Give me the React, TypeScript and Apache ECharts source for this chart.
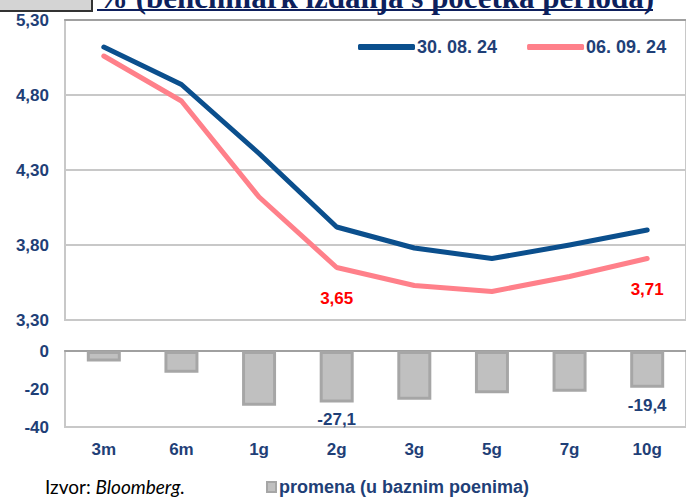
import React, { useEffect, useRef } from "react";
import * as echarts from "echarts";

const categories = ["3m", "6m", "1g", "2g", "3g", "5g", "7g", "10g"];
const series1Name = "30. 08. 24";
const series2Name = "06. 09. 24";
const barName = "promena (u baznim poenima)";
const values1 = [5.12, 4.87, 4.41, 3.92, 3.78, 3.71, 3.8, 3.9];
const values2 = [5.06, 4.76, 4.12, 3.65, 3.53, 3.49, 3.59, 3.71];
const changes = [-5.5, -11.5, -28.8, -27.1, -25.6, -22.2, -21.5, -19.4];
const lineLabelIdx = [3, 7];
const barLabelIdx = [3, 7];
const topTicks = [3.3, 3.8, 4.3, 4.8, 5.3];
const bottomTicks = [-40, -20, 0];
const titleText = "% (benchmark izdanja s početka perioda)";
const sourceLabel = "Izvor: ";
const sourceName = "Bloomberg.";

const NAVY = "#1f3f77";
const BLUE = "#0b4f8d";
const PINK = "#ff808a";
const FONT = "'Liberation Sans', Arial, sans-serif";

export default function App() {
  const ref = useRef<HTMLDivElement>(null);
  useEffect(() => {
    if (!ref.current) return;
    const chart = echarts.init(ref.current, null, { renderer: "svg" });
    const axisLabelStyle = {
      color: NAVY,
      fontWeight: "bold" as const,
      fontSize: 17,
      fontFamily: FONT,
    };
    const gridW = 627;
    const option: any = {
      animation: false,
      backgroundColor: "#ffffff",
      grid: [
        { left: 65, top: 20, width: gridW, height: 300, show: true, borderColor: "#c8c8c8", borderWidth: 2 },
        { left: 65, top: 351, width: gridW, height: 76, show: true, borderColor: "#c8c8c8", borderWidth: 2 },
      ],
      legend: [
        {
          data: [series1Name, series2Name],
          left: 353,
          top: 33,
          icon: "roundRect",
          itemWidth: 57,
          itemHeight: 6,
          itemGap: 30,
          textStyle: { ...axisLabelStyle, fontSize: 18, padding: [0, 0, 0, -3] },
        },
        {
          data: [barName],
          left: 261,
          top: 473,
          icon: "rect",
          itemWidth: 9,
          itemHeight: 10,
          itemGap: 0,
          textStyle: { ...axisLabelStyle, fontSize: 18, padding: [0, 0, 0, -2] },
        },
      ],
      xAxis: [
        { type: "category", gridIndex: 0, data: categories, position: "bottom", axisLine: { show: false }, axisTick: { show: false }, axisLabel: { show: false } },
        { type: "category", gridIndex: 0, data: categories, position: "top", axisLine: { show: true, lineStyle: { color: "#a0a0a0", width: 2 } }, axisTick: { show: false }, axisLabel: { show: false } },
        { type: "category", gridIndex: 1, data: categories, position: "bottom", axisLine: { show: false }, axisTick: { show: false }, axisLabel: { ...axisLabelStyle, margin: 14 } },
        { type: "category", gridIndex: 1, data: categories, position: "top", axisLine: { show: true, lineStyle: { color: "#a0a0a0", width: 2 } }, axisTick: { show: false }, axisLabel: { show: false } },
      ],
      yAxis: [
        {
          type: "value",
          gridIndex: 0,
          min: topTicks[0],
          max: topTicks[topTicks.length - 1],
          interval: topTicks[1] - topTicks[0],
          axisLine: { show: false },
          axisTick: { show: false },
          splitLine: { show: true, lineStyle: { color: "#c8c8c8", width: 2 } },
          axisLabel: { ...axisLabelStyle, margin: 16, formatter: (v: number) => v.toFixed(2).replace(".", ",") },
        },
        {
          type: "value",
          gridIndex: 1,
          min: bottomTicks[0],
          max: bottomTicks[bottomTicks.length - 1],
          interval: bottomTicks[1] - bottomTicks[0],
          axisLine: { show: false },
          axisTick: { show: false },
          splitLine: { show: false },
          axisLabel: { ...axisLabelStyle, margin: 16 },
        },
      ],
      series: [
        {
          name: series1Name,
          type: "line",
          xAxisIndex: 0,
          yAxisIndex: 0,
          data: values1,
          symbol: "none",
          color: BLUE,
          itemStyle: { color: BLUE },
          lineStyle: { color: BLUE, width: 5, cap: "round", join: "round" },
        },
        {
          name: series2Name,
          type: "line",
          xAxisIndex: 0,
          yAxisIndex: 0,
          data: values2.map((v, i) =>
            lineLabelIdx.includes(i) ? { value: v, label: { show: true } } : v
          ),
          symbol: "circle",
          symbolSize: 1,
          showSymbol: true,
          color: PINK,
          itemStyle: { color: PINK },
          lineStyle: { color: PINK, width: 5, cap: "round", join: "round" },
          label: {
            show: false,
            position: "bottom",
            distance: 22,
            color: "#ff0000",
            fontWeight: "bold",
            fontSize: 17,
            fontFamily: FONT,
            formatter: (p: any) => Number(p.value).toFixed(2).replace(".", ","),
          },
        },
        {
          name: barName,
          type: "bar",
          xAxisIndex: 2,
          yAxisIndex: 1,
          barWidth: 34,
          data: changes.map((v, i) =>
            barLabelIdx.includes(i) ? { value: v, label: { show: true } } : v
          ),
          color: "#c0c0c0",
          itemStyle: { color: "#c0c0c0", borderColor: "#a6a6a6", borderWidth: 3 },
          label: {
            show: false,
            position: "bottom",
            distance: 9,
            color: NAVY,
            fontWeight: "bold",
            fontSize: 17,
            fontFamily: FONT,
            formatter: (p: any) => Number(p.value).toFixed(1).replace(".", ","),
          },
        },
      ],
      graphic: [
        {
          type: "rect",
          shape: { x: -4, y: -10, width: 96, height: 21 },
          style: { fill: "#d4d4d4", stroke: "#333333", lineWidth: 2 },
        },
        {
          type: "text",
          x: 97,
          y: -2.5,
          style: {
            text: titleText,
            fill: "#0d1f5c",
            font: "bold 31px 'Liberation Serif', 'Times New Roman', serif",
            verticalAlign: "middle",
            align: "left",
          },
        },
        {
          type: "rect",
          shape: { x: 97, y: 9, width: 556, height: 2 },
          style: { fill: "#0d1f5c" },
        },
        {
          type: "text",
          x: 45,
          y: 486,
          style: {
            text: `{a|${sourceLabel}}{b|${sourceName}}`,
            verticalAlign: "middle",
            rich: {
              a: { fontFamily: "Lato, 'Open Sans', sans-serif", fontSize: 19, fill: "#000000" },
              b: { fontFamily: "Lato, 'Open Sans', sans-serif", fontSize: 19, fontStyle: "italic", fill: "#000000" },
            },
          },
        },
      ],
    };
    chart.setOption(option);
    return () => chart.dispose();
  }, []);
  return (
    <div
      ref={ref}
      style={{ position: "absolute", left: 0, top: 0, width: 686, height: 498, background: "#fff" }}
    />
  );
}
